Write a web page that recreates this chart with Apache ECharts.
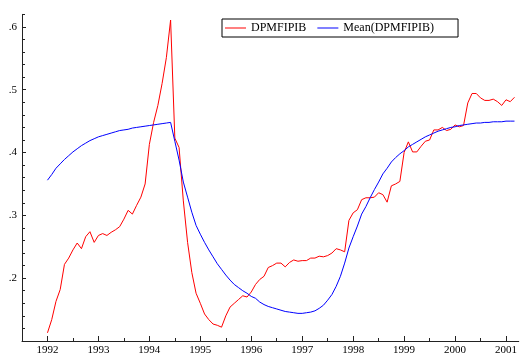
<!DOCTYPE html>
<html>
<head>
<meta charset="utf-8">
<script src="https://cdn.jsdelivr.net/npm/echarts@6/dist/echarts.min.js"></script>
<style>
  html, body { margin: 0; padding: 0; background: #fff; }
  #chart { width: 520px; height: 356px; }
</style>
</head>
<body>
<div id="chart"></div>
<script>
// Monthly observations, January 1992 onward
const startYear = 1992;

// DPMFIPIB, monthly
const dpmfipib = [
  0.113, 0.134, 0.163, 0.182, 0.222, 0.232, 0.245, 0.256, 0.247, 0.266, 0.274, 0.257,
  0.268, 0.271, 0.268, 0.273, 0.277, 0.282, 0.294, 0.308, 0.302, 0.316, 0.329, 0.350,
  0.413, 0.448, 0.475, 0.510, 0.551, 0.611, 0.423, 0.408, 0.323, 0.257, 0.209, 0.176,
  0.160, 0.143, 0.134, 0.127, 0.125, 0.122, 0.140, 0.154, 0.160, 0.166, 0.172, 0.170,
  0.178, 0.190, 0.198, 0.203, 0.217, 0.220, 0.224, 0.224, 0.218, 0.225, 0.229, 0.227,
  0.228, 0.228, 0.232, 0.232, 0.235, 0.234, 0.236, 0.240, 0.247, 0.245, 0.242, 0.292,
  0.304, 0.309, 0.325, 0.328, 0.328, 0.329, 0.336, 0.333, 0.321, 0.347, 0.350, 0.354,
  0.400, 0.417, 0.401, 0.401, 0.410, 0.418, 0.420, 0.436, 0.436, 0.440, 0.435, 0.437,
  0.444, 0.441, 0.443, 0.479, 0.494, 0.494, 0.487, 0.483, 0.483, 0.485, 0.481, 0.475,
  0.484, 0.481, 0.488
];

// Mean(DPMFIPIB), monthly
const meanDpmfipib = [
  0.356, 0.365, 0.375, 0.382, 0.389, 0.395, 0.401, 0.406, 0.411, 0.415, 0.419, 0.422,
  0.425, 0.427, 0.429, 0.431, 0.433, 0.435, 0.436, 0.437, 0.439, 0.440, 0.441, 0.442,
  0.443, 0.444, 0.445, 0.446, 0.447, 0.448, 0.418, 0.388, 0.353, 0.329, 0.305, 0.284,
  0.270, 0.257, 0.245, 0.234, 0.223, 0.214, 0.205, 0.197, 0.190, 0.185, 0.180, 0.176,
  0.171, 0.168, 0.162, 0.158, 0.155, 0.153, 0.151, 0.149, 0.147, 0.146, 0.145, 0.144,
  0.144, 0.145, 0.146, 0.148, 0.152, 0.157, 0.165, 0.174, 0.187, 0.203, 0.224, 0.248,
  0.266, 0.283, 0.302, 0.314, 0.328, 0.341, 0.353, 0.366, 0.375, 0.385, 0.392, 0.398,
  0.403, 0.409, 0.413, 0.417, 0.421, 0.425, 0.428, 0.431, 0.434, 0.436, 0.438, 0.440,
  0.441, 0.443, 0.444, 0.445, 0.446, 0.447, 0.447, 0.448, 0.448, 0.449, 0.449, 0.449,
  0.450, 0.450, 0.450
];

// Axis ticks
const yearTicks = [1992, 1993, 1994, 1995, 1996, 1997, 1998, 1999, 2000, 2001];
const halfYearTicks = [1991.5, 1992.5, 1993.5, 1994.5, 1995.5, 1996.5, 1997.5, 1998.5, 1999.5, 2000.5];
const yLabelTicks = [0.2, 0.3, 0.4, 0.5, 0.6];
const yMajorTicks = [0.1, 0.2, 0.3, 0.4, 0.5, 0.6];
const yMinorTicks = [0.12, 0.14, 0.16, 0.18, 0.22, 0.24, 0.26, 0.28, 0.32, 0.34, 0.36, 0.38,
                     0.42, 0.44, 0.46, 0.48, 0.52, 0.54, 0.56, 0.58, 0.62];

const X_MIN = 1991.5, X_MAX = 2001.25;
const Y_MIN = 0.1, Y_MAX = 0.62;

// month index -> fractional year
const toPairs = (vals) => vals.map((v, i) => [startYear + i / 12, v]);

const serif = "'Liberation Serif', 'Times New Roman', Times, serif";
const axisColor = '#222';

const chart = echarts.init(document.getElementById('chart'), null, { renderer: 'canvas' });

const option = {
  animation: false,
  backgroundColor: '#fff',
  grid: { left: 22, top: 14.35, right: 0, bottom: 12.75 },
  legend: {
    data: ['DPMFIPIB', 'Mean(DPMFIPIB)'],
    left: 222,
    top: 19,
    orient: 'horizontal',
    icon: 'rect',
    backgroundColor: '#fff',
    borderColor: '#000',
    borderWidth: 1,
    borderRadius: 0,
    padding: [3, 24, 3, 3],
    itemWidth: 21,
    itemHeight: 1,
    itemGap: 11,
    textStyle: { fontFamily: serif, fontSize: 12, color: '#000' }
  },
  xAxis: [
    {
      type: 'value', min: X_MIN, max: X_MAX, position: 'bottom',
      splitLine: { show: false },
      axisLine: { show: true, lineStyle: { color: axisColor, width: 1 } },
      axisTick: { show: true, inside: true, length: 5, customValues: yearTicks,
                  lineStyle: { color: axisColor } },
      axisLabel: { show: true, customValues: yearTicks, margin: 4,
                   fontFamily: serif, fontSize: 11, color: '#000',
                   formatter: (v) => String(Math.round(v)) }
    },
    {
      type: 'value', min: X_MIN, max: X_MAX, position: 'bottom',
      splitLine: { show: false },
      axisLine: { show: false },
      axisTick: { show: true, inside: true, length: 3, customValues: halfYearTicks,
                  lineStyle: { color: axisColor } },
      axisLabel: { show: false }
    }
  ],
  yAxis: [
    {
      type: 'value', min: Y_MIN, max: Y_MAX, position: 'left',
      splitLine: { show: false },
      axisLine: { show: true, lineStyle: { color: axisColor, width: 1 } },
      axisTick: { show: true, inside: true, length: 4, customValues: yMajorTicks,
                  lineStyle: { color: axisColor } },
      axisLabel: { show: true, customValues: yLabelTicks, margin: 5,
                   fontFamily: serif, fontSize: 11, color: '#000',
                   formatter: (v) => v.toFixed(1).replace(/^0/, '') }
    },
    {
      type: 'value', min: Y_MIN, max: Y_MAX, position: 'left',
      splitLine: { show: false },
      axisLine: { show: false },
      axisTick: { show: true, inside: true, length: 3, customValues: yMinorTicks,
                  lineStyle: { color: axisColor } },
      axisLabel: { show: false }
    }
  ],
  series: [
    {
      name: 'DPMFIPIB', type: 'line', xAxisIndex: 0, yAxisIndex: 0,
      data: toPairs(dpmfipib), symbol: 'none', smooth: false,
      color: '#ff0000', lineStyle: { color: '#ff0000', width: 1 }
    },
    {
      name: 'Mean(DPMFIPIB)', type: 'line', xAxisIndex: 0, yAxisIndex: 0,
      data: toPairs(meanDpmfipib), symbol: 'none', smooth: false,
      color: '#0000ff', lineStyle: { color: '#0000ff', width: 1 }
    }
  ]
};

chart.setOption(option);
</script>
</body>
</html>
